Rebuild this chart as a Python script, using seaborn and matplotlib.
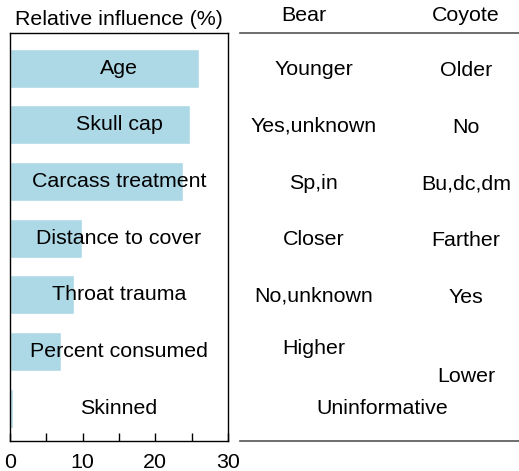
import numpy as np
import pandas as pd
import matplotlib
matplotlib.use('Agg')
import matplotlib.pyplot as plt
import seaborn as sns
from matplotlib.ticker import MultipleLocator

# Data
factors = ['Age', 'Skull cap', 'Carcass treatment', 'Distance to cover',
           'Throat trauma', 'Percent consumed', 'Skinned']
influence = [26.0, 24.8, 23.8, 9.9, 8.8, 7.0, 0.4]
bear = ['Younger', 'Yes,unknown', 'Sp,in', 'Closer', 'No,unknown', 'Higher', '']
coyote = ['Older', 'No', 'Bu,dc,dm', 'Farther', 'Yes', 'Lower', '']
shared = {'Skinned': 'Uninformative'}
col_headers = ['Bear', 'Coyote']

df = pd.DataFrame({'factor': factors, 'influence': influence})

sns.set_style('white')
plt.rcParams['font.family'] = ['Liberation Sans', 'DejaVu Sans']
plt.rcParams.update({'text.color': 'black', 'xtick.color': 'black',
                     'axes.labelcolor': 'black'})
fs = 15.4

fig = plt.figure(figsize=(5.19, 4.71), dpi=100)
ax = fig.add_axes([10 / 519, 30 / 471, 218 / 519, 408 / 471])
ax2 = fig.add_axes([240 / 519, 30 / 471, 279 / 519, 408 / 471])

sns.barplot(data=df, x='influence', y='factor', orient='h', color='#add8e6',
            width=0.69, saturation=1, ax=ax)
ylim = (6.58, -0.62)
ax.set_ylim(*ylim)
ax.set_xlim(0, 30)
for i, f in enumerate(factors):
    ax.text(15, i, f, ha='center', va='center', fontsize=fs)

ax.xaxis.set_major_locator(MultipleLocator(10))
ax.xaxis.set_minor_locator(MultipleLocator(5))
ax.tick_params(axis='x', which='both', direction='in', length=6, width=1,
               bottom=True, labelsize=fs, pad=9, color='black', labelcolor='black')
ax.set_yticks([])
ax.set_xlabel('')
ax.set_ylabel('')
for s in ax.spines.values():
    s.set_color('black')
    s.set_linewidth(1)
ax.set_title('Relative influence (%)', fontsize=fs, pad=6)

# Right-hand table
ax2.set_xlim(0, 1)
ax2.set_ylim(*ylim)
ax2.set_xticks([])
ax2.set_yticks([])
for side in ['left', 'right']:
    ax2.spines[side].set_visible(False)
for side in ['top', 'bottom']:
    ax2.spines[side].set_color('#555555')
    ax2.spines[side].set_linewidth(1.2)

xb, xc = 0.265, 0.81
ax2.text(0.228, 1.042, col_headers[0], transform=ax2.transAxes, ha='center', va='center', fontsize=fs)
ax2.text(0.81, 1.042, col_headers[1], transform=ax2.transAxes, ha='center', va='center', fontsize=fs)

offsets = {('Percent consumed', 'b'): -0.05, ('Percent consumed', 'c'): 0.45}
for i, f in enumerate(factors):
    if f in shared:
        ax2.text(0.51, i, shared[f], ha='center', va='center', fontsize=fs)
        continue
    ax2.text(xb, i + offsets.get((f, 'b'), 0.03), bear[i], ha='center', va='center', fontsize=fs)
    ax2.text(xc, i + offsets.get((f, 'c'), 0.05), coyote[i], ha='center', va='center', fontsize=fs)

plt.savefig('out.png', dpi=100)
